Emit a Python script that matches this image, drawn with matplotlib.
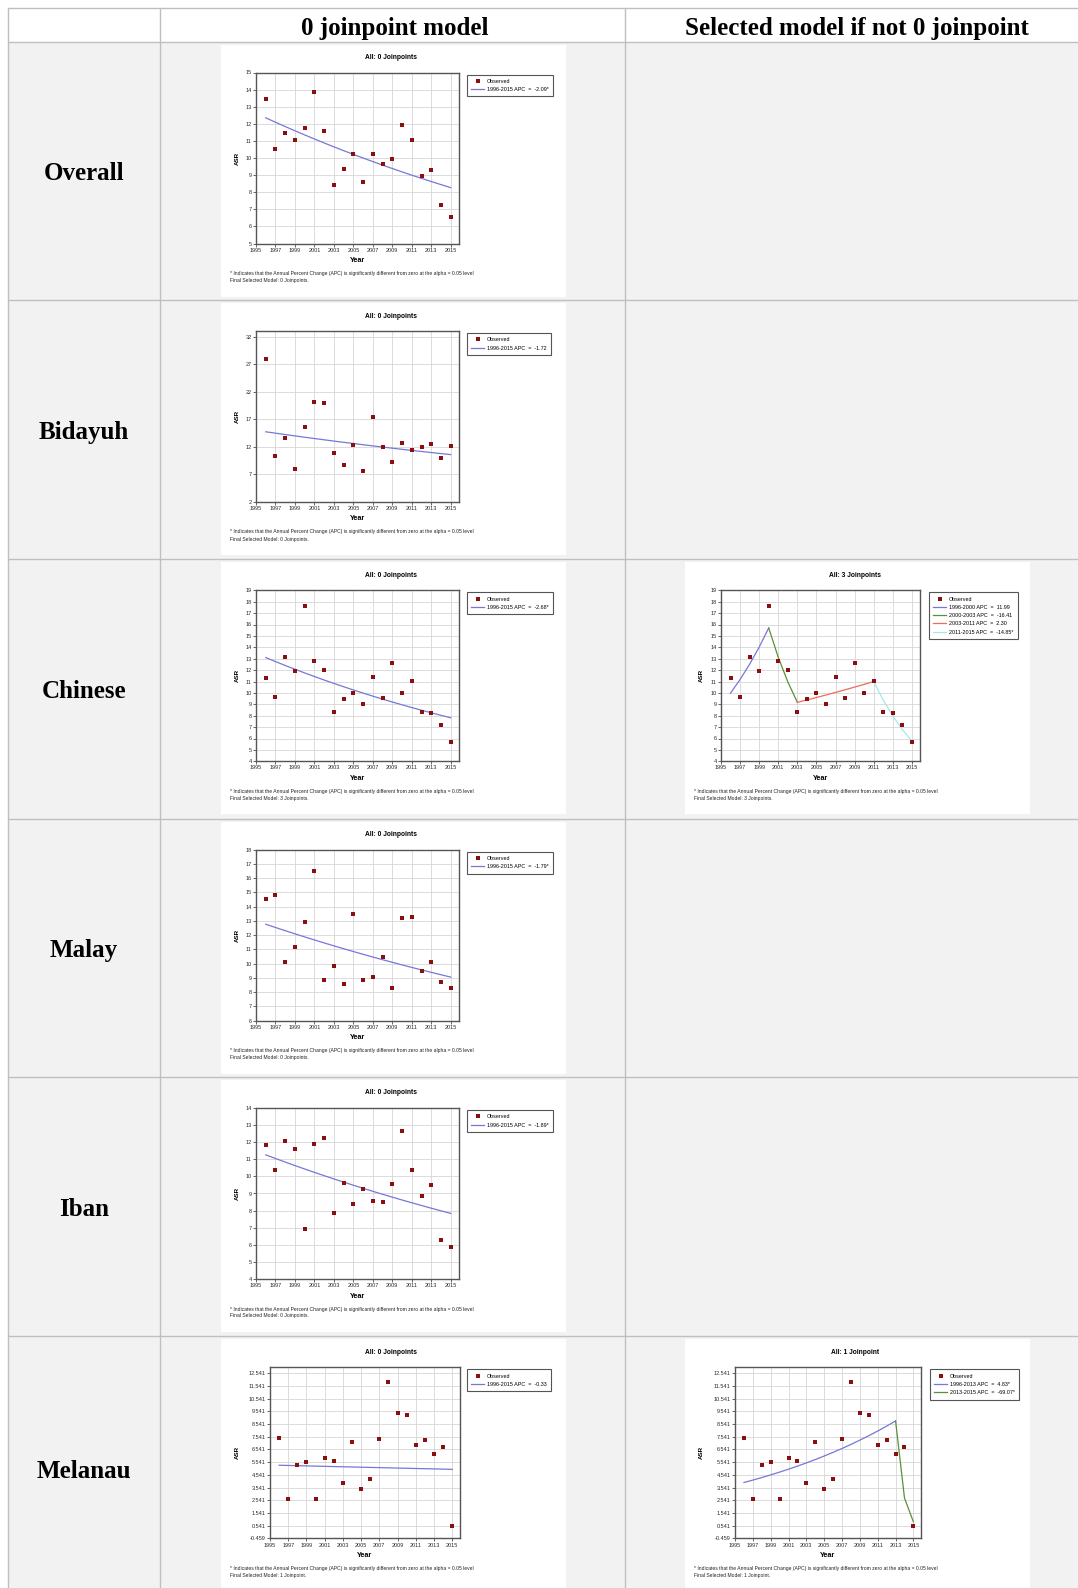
import numpy as np
import matplotlib
matplotlib.use("Agg")
import matplotlib.pyplot as plt
from matplotlib.patches import Rectangle
from matplotlib.lines import Line2D

# ---------------------------------------------------------------- data
years = list(range(1996, 2016))

row_names = ["Overall", "Bidayuh", "Chinese", "Malay", "Iban", "Melanau"]
col_headers = ["0 joinpoint model", "Selected model if not 0 joinpoint"]

asr_overall = [13.45, 10.52, 11.44, 11.08, 11.75, 13.87, 11.59, 8.41, 9.38, 10.25,
               8.58, 10.21, 9.63, 9.93, 11.91, 11.06, 8.92, 9.32, 7.28, 6.56]
asr_bidayuh = [27.87, 10.31, 13.55, 7.95, 15.61, 20.09, 20.03, 10.96, 8.72, 12.31,
               7.60, 17.50, 12.02, 9.31, 12.78, 11.37, 12.02, 12.43, 10.01, 12.14]
asr_chinese = [11.31, 9.68, 13.14, 11.96, 17.58, 12.79, 11.99, 8.32, 9.47, 9.95,
               9.00, 11.43, 9.53, 12.58, 9.98, 11.04, 8.32, 8.26, 7.17, 5.72]
asr_malay = [14.56, 14.82, 10.09, 11.16, 12.94, 16.50, 8.88, 9.85, 8.55, 13.49,
             8.86, 9.05, 10.49, 8.28, 13.18, 13.30, 9.50, 10.09, 8.74, 8.28]
asr_iban = [11.83, 10.37, 12.09, 11.61, 6.92, 11.87, 12.24, 7.85, 9.64, 8.36,
            9.29, 8.56, 8.52, 9.58, 12.64, 10.39, 8.87, 9.48, 6.27, 5.89]
asr_melanau = [7.43, 2.66, 5.30, 5.56, 2.66, 5.90, 5.64, 3.87, 7.14, 3.41,
               4.21, 7.38, 11.84, 9.45, 9.22, 6.91, 7.30, 6.21, 6.76, 0.50]

# single-segment (0 joinpoint) fits: fitted 1996 value and APC (%)
fit0_start = [12.35, 14.73, 13.10, 12.77, 11.26, 5.30]
fit0_apc = [-2.09, -1.72, -2.68, -1.79, -1.89, -0.33]
fit0_sig = [True, False, True, True, True, False]
final_model = ["0 Joinpoints", "0 Joinpoints", "3 Joinpoints",
               "0 Joinpoints", "0 Joinpoints", "1 Joinpoint"]

# selected joinpoint models
chinese_breaks = [1996, 2000, 2003, 2011, 2015]
chinese_apc = [11.99, -16.41, 2.30, -14.85]
chinese_sig = [False, False, False, True]
chinese_start = 9.98

melanau_breaks = [1996, 2013, 2015]
melanau_apc = [4.83, -69.07]
melanau_sig = [True, True]
melanau_start = 3.94

yticks_overall = list(range(5, 16))
yticks_bidayuh = list(range(2, 33, 5))
yticks_chinese = list(range(4, 20))
yticks_malay = list(range(6, 19))
yticks_iban = list(range(4, 15))
yticks_melanau = [-0.459 + k for k in range(14)]
xticks = list(range(1995, 2016, 2))

FOOT = ("* Indicates that the Annual Percent Change (APC) is significantly "
        "different from zero at the alpha = 0.05 level")

# ---------------------------------------------------------------- styles
W, H = 1078, 1588
SANS = "Liberation Sans"
SERIF = "Liberation Serif"
MARK = "#8b0f0f"
SEG_COLORS = ["#7777d8", "#5b8f3c", "#f06a5e", "#a6e8e8"]
GRID = "#d6d6d6"
TABLE_LINE = "#bfbfbf"
CELL_BG = "#f2f2f2"

fig = plt.figure(figsize=(W / 100, H / 100), dpi=100)
bg = fig.add_axes([0, 0, 1, 1])
bg.set_xlim(0, W)
bg.set_ylim(H, 0)
bg.axis("off")


def frac_box(x0, y0, x1, y1):
    return [x0 / W, 1 - y1 / H, (x1 - x0) / W, (y1 - y0) / H]


# ---------------------------------------------------------------- table
col_x = [8, 160, 625, 1089]
row_y = [8, 41.5, 300, 559.3, 818.7, 1077, 1336.4, 1600]

bg.add_patch(Rectangle((col_x[0], row_y[1]), col_x[-1] - col_x[0],
                       row_y[-1] - row_y[1], fc=CELL_BG, ec="none", zorder=0))
for y in row_y[:-1]:
    bg.plot([col_x[0], W], [y, y], color=TABLE_LINE, lw=1, zorder=0.5)
for x in col_x[:-1]:
    bg.plot([x, x], [row_y[0], H], color=TABLE_LINE, lw=1, zorder=0.5)

bg.text(395, 28, col_headers[0], family=SERIF, fontweight="bold", fontsize=18,
        ha="center", va="center")
bg.text(857, 28, col_headers[1], family=SERIF, fontweight="bold", fontsize=18,
        ha="center", va="center")
for i, name in enumerate(row_names):
    mid = (row_y[i + 1] + row_y[i + 2]) / 2
    bg.text(84, mid + 3, name, family=SERIF, fontweight="bold", fontsize=18,
            ha="center", va="center")


# ---------------------------------------------------------------- charts
def fitted(breaks, apcs, start):
    """Joinpoint fitted values evaluated at each year of each segment."""
    out = []
    v0 = start
    for (a, b), apc in zip(zip(breaks[:-1], breaks[1:]), apcs):
        t = np.arange(a, b + 1)
        vals = v0 * (1 + apc / 100.0) ** (t - a)
        out.append((t, vals))
        v0 = vals[-1]
    return out


def seg_label(a, b, apc, sig):
    return f"{a}-{b} APC  =  {apc:.2f}" + ("*" if sig else "")


def draw_chart(bx, ry, title, obs, yticks, ylim, breaks, apcs, sigs, start,
               final, plot_l=35, plot_r=238, leg_l=246, ytick_fmt=None):
    by = ry + 3
    bg.add_patch(Rectangle((bx, by), 345, 252, fc="white", ec="none", zorder=1))
    bg.text(bx + 170, by + 13, title, family=SANS, fontweight="bold",
            fontsize=4.8, ha="center", va="center", zorder=2)

    ax = fig.add_axes(frac_box(bx + plot_l, by + 28, bx + plot_r, by + 199))
    ax.set_facecolor("white")
    ax.set_xlim(1995, 2015.85)
    ax.set_ylim(*ylim)
    ax.set_xticks(xticks)
    ax.set_yticks(yticks)
    if ytick_fmt:
        ax.set_yticklabels([ytick_fmt.format(v) for v in yticks])
    ax.grid(True, color=GRID, lw=0.6)
    ax.set_axisbelow(True)
    for s in ax.spines.values():
        s.set_color("#555555")
        s.set_linewidth(1.0)
    ax.tick_params(labelsize=4.0, length=2, width=0.5, pad=1,
                   colors="#2a2a2a")
    for lab in ax.get_xticklabels() + ax.get_yticklabels():
        lab.set_family(SANS)

    handles = [Line2D([], [], marker="s", ls="none", color=MARK,
                      markersize=2.2, markeredgewidth=0)]
    labels = ["Observed"]
    for k, (t, vals) in enumerate(fitted(breaks, apcs, start)):
        ax.plot(t, vals, color=SEG_COLORS[k], lw=0.9, zorder=2)
        handles.append(Line2D([], [], color=SEG_COLORS[k], lw=0.9))
        labels.append(seg_label(breaks[k], breaks[k + 1], apcs[k], sigs[k]))
    ax.scatter(years, obs, marker="s", s=5.5, c=MARK, linewidths=0, zorder=3)

    leg = ax.legend(handles, labels, loc="upper left",
                    bbox_to_anchor=((bx + leg_l) / W, 1 - (by + 30) / H),
                    bbox_transform=fig.transFigure, prop={"family": SANS,
                                                          "size": 3.9},
                    frameon=True, fancybox=False, edgecolor="#555555",
                    framealpha=1, borderpad=0.8, handlelength=2.3,
                    handletextpad=0.6, labelspacing=0.6, borderaxespad=0,
                    numpoints=1)
    leg.get_frame().set_linewidth(0.8)

    cxp = bx + (plot_l + plot_r) / 2
    bg.text(cxp, by + 216, "Year", family=SANS, fontweight="bold",
            fontsize=5.2, ha="center", va="center", zorder=2)
    bg.text(bx + 16, by + (28 + 199) / 2, "ASR", family=SANS,
            fontweight="bold", fontsize=4.5, rotation=90, ha="center",
            va="center", zorder=2)
    bg.text(bx + 9, by + 229, FOOT, family=SANS, fontsize=3.6, ha="left",
            va="center", color="#222222", zorder=2)
    bg.text(bx + 9, by + 236, "Final Selected Model: " + final + ".",
            family=SANS, fontsize=3.6, ha="left", va="center",
            color="#222222", zorder=2)


col1_x, col2_x = 221, 685
row_top = row_y[1:7]

obs_all = [asr_overall, asr_bidayuh, asr_chinese, asr_malay, asr_iban,
           asr_melanau]
ytick_all = [yticks_overall, yticks_bidayuh, yticks_chinese, yticks_malay,
             yticks_iban, yticks_melanau]
ylim_all = [(5, 15), (2, 33), (4, 19), (6, 18), (4, 14), (-0.459, 13.0)]

for i in range(6):
    mel = row_names[i] == "Melanau"
    draw_chart(col1_x, row_top[i], "All: 0 Joinpoints", obs_all[i],
               ytick_all[i], ylim_all[i], [1996, 2015], [fit0_apc[i]],
               [fit0_sig[i]], fit0_start[i], final_model[i],
               plot_l=49 if mel else 35, plot_r=239 if mel else 238,
               ytick_fmt="{:.3f}" if mel else None)

draw_chart(col2_x, row_top[2], "All: 3 Joinpoints", asr_chinese,
           yticks_chinese, (4, 19), chinese_breaks, chinese_apc, chinese_sig,
           chinese_start, "3 Joinpoints", plot_l=36, plot_r=235, leg_l=244)
draw_chart(col2_x, row_top[5], "All: 1 Joinpoint", asr_melanau,
           yticks_melanau, (-0.459, 13.0), melanau_breaks, melanau_apc,
           melanau_sig, melanau_start, "1 Joinpoint", plot_l=50, plot_r=236,
           leg_l=245, ytick_fmt="{:.3f}")

fig.savefig("out.png", dpi=100)
